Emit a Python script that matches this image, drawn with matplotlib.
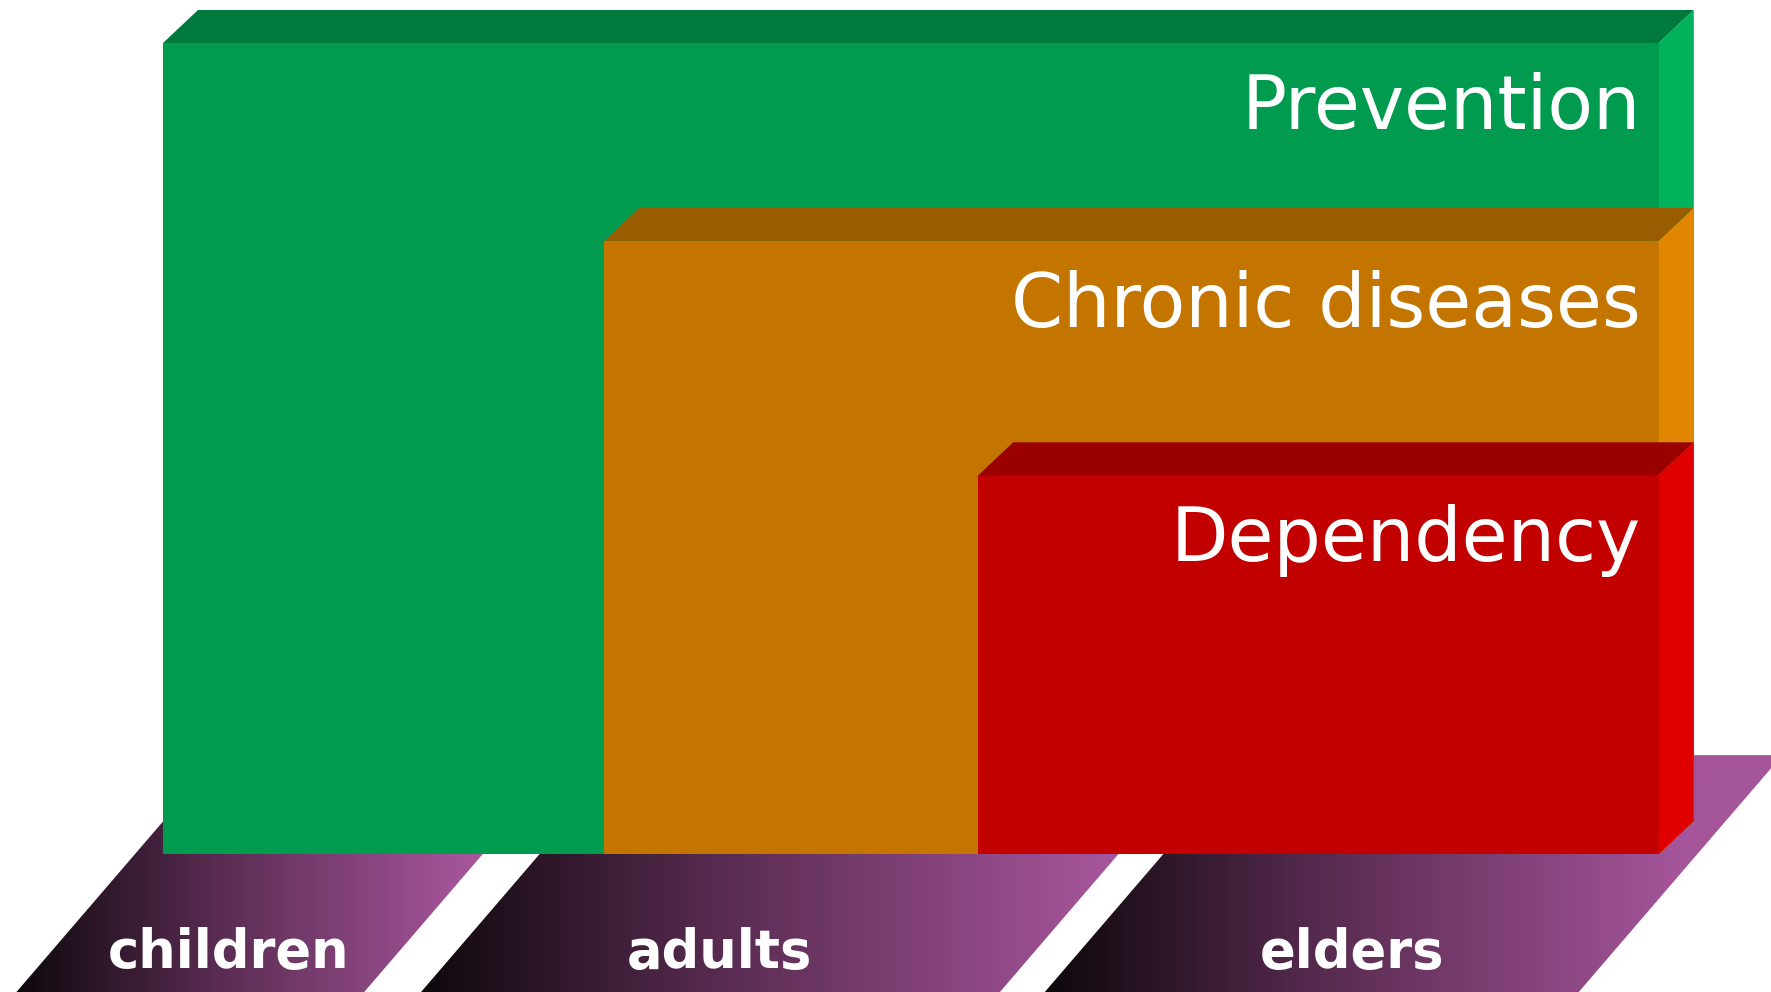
import numpy as np
import matplotlib
matplotlib.use("Agg")
import matplotlib.pyplot as plt
from matplotlib.patches import Polygon, Rectangle
from matplotlib.colors import LinearSegmentedColormap

# stages of life on the floor (x in life-course units, floor from y_bottom to y_top)
groups = ["children", "adults", "elders"]
floor_left = [-9.8, 17.25, 58.95]     # bottom-left corner of each floor tile
floor_right = [13.45, 55.95, 94.65]   # bottom-right corner
floor_bottom = -17.0
floor_top = 12.2
shear = 0.466                          # x shift per unit of y on the floor
label_x = [4.35, 37.2, 79.5]

# the three stacked blocks
blocks = ["Prevention", "Chronic diseases", "Dependency"]
block_start = [0, 29.5, 54.5]
block_end = [100, 100, 100]
block_height = [100, 75.6, 46.7]

front_col = ["#009b4e", "#c47500", "#c30000"]
top_col = ["#007a3c", "#9a5c00", "#9a0000"]
side_col = ["#00b259", "#e08600", "#e00000"]

depth_x, depth_y = 2.34, 4.07

fig = plt.figure(figsize=(17.71, 9.92), dpi=100)
ax = fig.add_axes([0, 0, 1, 1])
ax.axis("off")

cmap = LinearSegmentedColormap.from_list(
    "floor", [(0, "#0e080c"), (0.45, "#5a2c52"), (1, "#a5559a")])

for i, g in enumerate(groups):
    bl, br = floor_left[i], floor_right[i]
    h = floor_top - floor_bottom
    pts = [(bl, floor_bottom), (br, floor_bottom),
           (br + shear * h, floor_top), (bl + shear * h, floor_top)]
    poly = Polygon(pts, closed=True, facecolor="none", edgecolor="none")
    ax.add_patch(poly)
    xmin, xmax = bl, br + shear * h
    xs = np.linspace(xmin, xmax, 600)
    grad_end = br + shear * h / 2
    t = np.clip((xs - bl) / (grad_end - bl), 0, 1)
    im = ax.imshow(t[None, :], cmap=cmap, vmin=0, vmax=1, aspect="auto",
                   extent=[xmin, xmax, floor_bottom, floor_top], zorder=1,
                   interpolation="bilinear")
    im.set_clip_path(poly)
    ax.text(label_x[i], -14.06, g, color="white", fontsize=38, fontweight="bold",
            ha="center", va="baseline", zorder=10)

for i, name in enumerate(blocks):
    x0, x1, h = block_start[i], block_end[i], block_height[i]
    z = 3 + i
    ax.add_patch(Rectangle((x0, 0), x1 - x0, h, facecolor=front_col[i],
                           edgecolor="none", zorder=z))
    ax.add_patch(Polygon([(x0, h), (x0 + depth_x, h + depth_y),
                          (x1 + depth_x, h + depth_y), (x1, h)],
                         facecolor=top_col[i], edgecolor="none", zorder=z))
    ax.add_patch(Polygon([(x1, h), (x1 + depth_x, h + depth_y),
                          (x1 + depth_x, depth_y), (x1, 0)],
                         facecolor=side_col[i], edgecolor="none", zorder=z))
    ax.text(98.8, h - 10.6, name, color="white", fontsize=53.7,
            ha="right", va="baseline", zorder=10)

ax.set_xlim(-10.9, 107.5)
ax.set_ylim(-17.0, 105.3)

fig.savefig("out.png", dpi=100, facecolor="white")
